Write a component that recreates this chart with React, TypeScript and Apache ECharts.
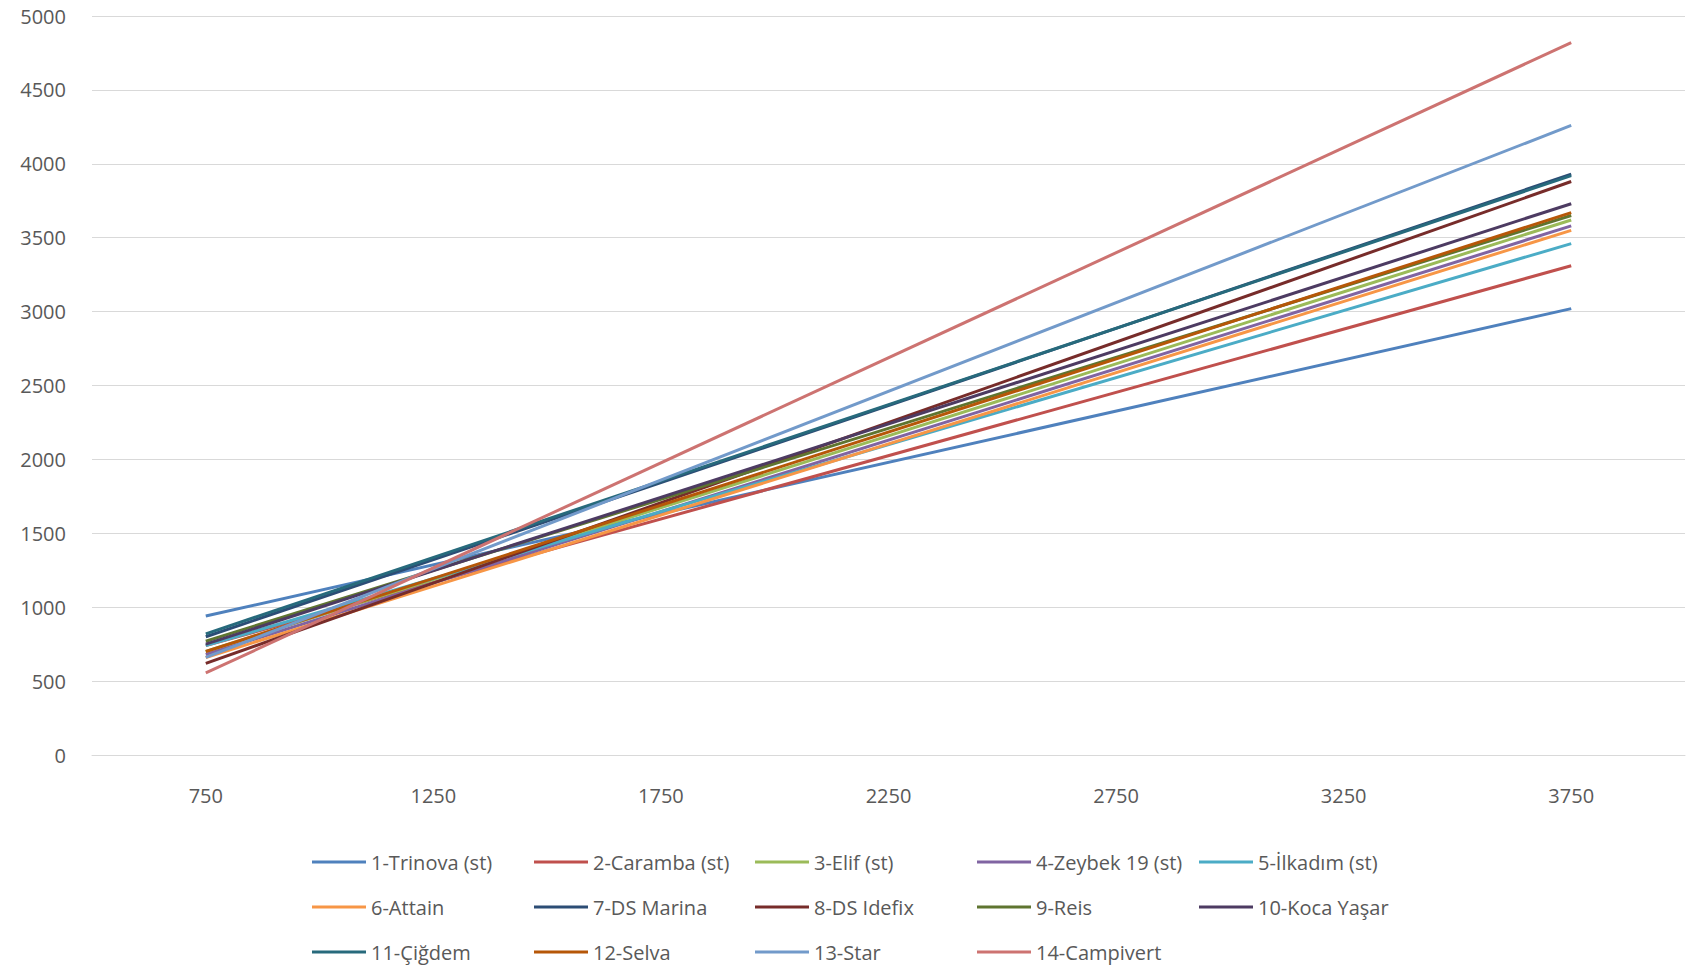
import React, { useEffect, useRef } from "react";
import * as echarts from "echarts";

const categories = ["750", "1250", "1750", "2250", "2750", "3250", "3750"];
const seriesNames = [
  "1-Trinova (st)",
  "2-Caramba (st)",
  "3-Elif (st)",
  "4-Zeybek 19 (st)",
  "5-İlkadım (st)",
  "6-Attain",
  "7-DS Marina",
  "8-DS Idefix",
  "9-Reis",
  "10-Koca Yaşar",
  "11-Çiğdem",
  "12-Selva",
  "13-Star",
  "14-Campivert",
];
// value at 750 and at 3750 for each series (trend lines)
const startValues = [940, 740, 700, 680, 740, 660, 800, 620, 770, 750, 820, 700, 660, 555];
const endValues = [3020, 3310, 3620, 3580, 3460, 3550, 3930, 3880, 3650, 3730, 3920, 3670, 4260, 4820];
const colors = [
  "#4F81BD", "#C0504D", "#9BBB59", "#8064A2", "#4BACC6", "#F79646",
  "#2C4D75", "#772C2A", "#5F7530", "#4D3B62", "#276A7C", "#B65708",
  "#729ACA", "#CD7371",
];
const yTicks = { min: 0, max: 5000, interval: 500 };

export default function App() {
  const ref = useRef<HTMLDivElement>(null);
  useEffect(() => {
    if (!ref.current) return;
    const chart = echarts.init(ref.current, undefined, { renderer: "svg" });
    const font = "Open Sans";
    const textColor = "#595959";
    const fs = 20;
    const series = seriesNames.map((name, i) => ({
      name,
      type: "line",
      data: categories.map((_, j) =>
        j === 0 ? startValues[i] : j === categories.length - 1 ? endValues[i] : null
      ),
      connectNulls: true,
      showSymbol: false,
      symbol: "none",
      lineStyle: { width: 3, color: colors[i] },
      itemStyle: { color: colors[i] },
    }));
    const colX = [307, 529, 750, 972, 1194];
    const legends = seriesNames.map((name, i) => ({
      data: [name],
      left: colX[i % 5],
      top: 847 + Math.floor(i / 5) * 45,
      orient: "horizontal",
      icon: "rect",
      itemWidth: 54,
      itemHeight: 3,
      textStyle: { fontFamily: font, fontSize: fs, color: textColor },
    }));
    chart.setOption({
      animation: false,
      color: colors,
      textStyle: { fontFamily: font },
      grid: { left: 92, right: 3, top: 16, bottom: 214, containLabel: false },
      xAxis: {
        type: "category",
        data: categories,
        boundaryGap: true,
        axisLine: { show: true, lineStyle: { color: "#d9d9d9", width: 1 } },
        axisTick: { show: false },
        axisLabel: { color: textColor, fontFamily: font, fontSize: fs, margin: 30 },
        splitLine: { show: false },
      },
      yAxis: {
        type: "value",
        min: yTicks.min,
        max: yTicks.max,
        interval: yTicks.interval,
        axisLine: { show: false },
        axisTick: { show: false },
        axisLabel: {
          color: textColor,
          fontFamily: font,
          fontSize: fs,
          margin: 26,
          formatter: (v: number) => String(v),
        },
        splitLine: { lineStyle: { color: "#d9d9d9", width: 1 } },
      },
      legend: legends,
      series,
    });
    return () => chart.dispose();
  }, []);
  return (
    <div
      ref={ref}
      style={{ position: "fixed", left: 0, top: 0, width: 1688, height: 969, background: "#fff" }}
    />
  );
}
